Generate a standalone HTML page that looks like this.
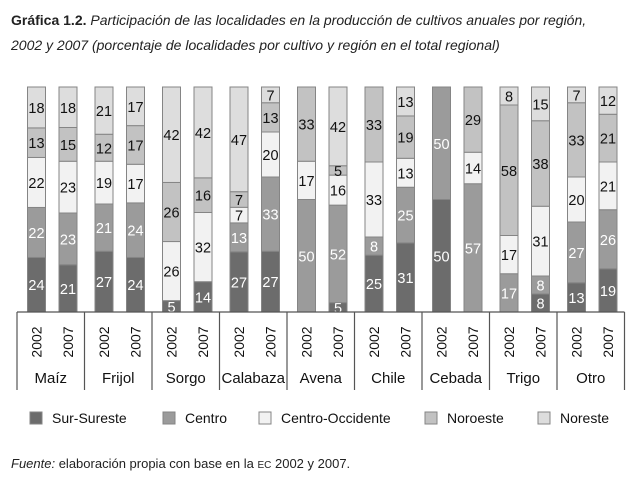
<!DOCTYPE html>
<html><head><meta charset="utf-8"><style>
body{margin:0;background:#fff;width:638px;height:484px;overflow:hidden;font-family:"Liberation Sans",sans-serif;}
.t{position:absolute;left:11px;font-size:14px;color:#222;line-height:25px;}
</style></head><body>
<div class="t" style="top:8px"><b>Gráfica 1.2.</b> <i>Participación de las localidades en la producción de cultivos anuales por región,</i><br><i>2002 y 2007 (porcentaje de localidades por cultivo y región en el total regional)</i></div>
<svg id="c" width="638" height="484" style="position:absolute;left:0;top:0"></svg>
<div class="t" style="top:451px;font-size:13px"><i>Fuente:</i> elaboración propia con base en la <span style="font-size:10px">EC</span> 2002 y 2007.</div>
<script>
const categories=["Maíz","Frijol","Sorgo","Calabaza","Avena","Chile","Cebada","Trigo","Otro"];
const years=["2002","2007"];
const series=["Sur-Sureste","Centro","Centro-Occidente","Noroeste","Noreste"];
const surSureste=[[24,21],[27,24],[5,14],[27,27],[0,5],[25,31],[50,0],[0,8],[13,19]];
const centro=[[22,23],[21,24],[0,0],[13,33],[50,52],[8,25],[50,57],[17,8],[27,26]];
const centroOccidente=[[22,23],[19,17],[26,32],[7,20],[17,16],[33,13],[0,14],[17,31],[20,21]];
const noroeste=[[13,15],[12,17],[26,16],[7,13],[33,5],[33,19],[0,29],[58,38],[33,21]];
const noreste=[[18,18],[21,17],[42,42],[47,7],[0,42],[0,13],[0,0],[8,15],[7,12]];
const colors=["#6c6c6c","#9b9b9b","#f2f2f2","#c2c2c2","#dddddd"];
const textCol=["#fff","#fff","#111","#111","#111"];
const svg=document.getElementById('c');const NS="http://www.w3.org/2000/svg";
function mk(t,a){const e=document.createElementNS(NS,t);for(const k in a)e.setAttribute(k,a[k]);svg.appendChild(e);return e;}
const x0=17,groupW=67.5,yTop=87,yBot=312,barW=18;
function xBar(i,j){return x0+i*groupW+10.5+j*31.5;}
function yScale(v,sum){return yBot-v/sum*(yBot-yTop);}
const all=[surSureste,centro,centroOccidente,noroeste,noreste];
categories.forEach((cat,i)=>{
 years.forEach((yr,j)=>{
  const vals=all.map(s=>s[i][j]);const sum=vals.reduce((a,b)=>a+b,0);
  let acc=0;const x=xBar(i,j);
  vals.forEach((v,k)=>{
   if(v<=0)return;
   const y1=yScale(acc+v,sum),y0=yScale(acc,sum);
   const r=mk('rect',{x:x,y:y1,width:barW,height:y0-y1,fill:colors[k],stroke:'#858585','stroke-width':1});
   
   
   const t=mk('text',{x:x+barW/2,y:(y0+y1)/2+5.5,'text-anchor':'middle','font-size':14.5,fill:textCol[k]});
   t.textContent=v;
   
   
   acc+=v;
  });
  const yl=mk('text',{x:0,y:0,'text-anchor':'middle','font-size':14,fill:'#111',transform:`translate(${x+barW/2+5},342) rotate(-90)`});
  yl.textContent=yr;
  
  
 });
 const cl=mk('text',{x:x0+i*groupW+groupW/2,y:383,'text-anchor':'middle','font-size':15,fill:'#111'});
 cl.textContent=cat;
 
 
});
const ax=mk('line',{x1:x0,y1:yBot,x2:x0+9*groupW,y2:yBot,stroke:'#555','stroke-width':1.2});


for(let i=0;i<=9;i++){
 const l=mk('line',{x1:x0+i*groupW,y1:yBot,x2:x0+i*groupW,y2:390,stroke:'#555','stroke-width':1.2});
 
 
}
const lx=[30,163,259,425,538];
series.forEach((s,k)=>{
 const r=mk('rect',{x:lx[k],y:412,width:12,height:12,fill:colors[k],stroke:'#858585'});
 
 
 const t=mk('text',{x:lx[k]+22,y:423,'font-size':14,fill:'#111'});
 t.textContent=s;
 
 
});
</script>
</body></html>
